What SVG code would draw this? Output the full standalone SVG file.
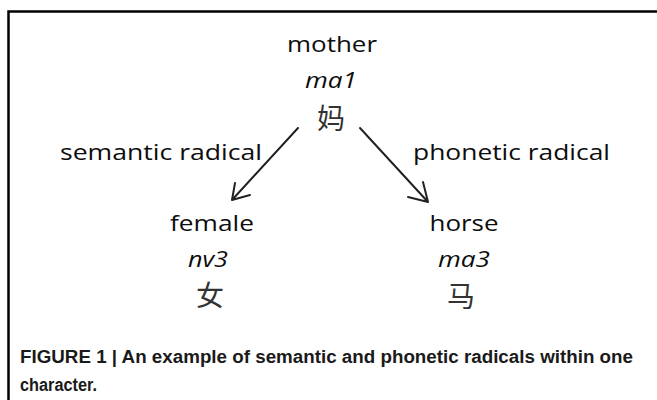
<svg xmlns="http://www.w3.org/2000/svg" width="657" height="400" viewBox="0 0 657 400">
<defs>
<style>
.t{font-family:"Open Sans","Liberation Sans",sans-serif;font-size:22px;fill:#0d0d0d;text-anchor:middle}
.i{font-style:italic}
.c{font-family:"Noto Sans CJK SC",sans-serif;font-size:28px;fill:#333;text-anchor:middle}
.cap{font-family:"Liberation Sans",Arial,sans-serif;font-size:18px;font-weight:bold;fill:#1a1a1a}
.edge{stroke:#222;stroke-width:2;fill:none;stroke-linecap:round;stroke-linejoin:round}
</style>
</defs>
<rect width="657" height="400" fill="#fff"/>
<path d="M8.5 400 V11.5 H657" fill="none" stroke="#000" stroke-width="2.5"/>
<g id="mother">
<text class="t" x="332" y="52" textLength="90" lengthAdjust="spacingAndGlyphs">mother</text>
<text class="t i" x="331" y="88" textLength="52" lengthAdjust="spacingAndGlyphs">ma1</text>
<text class="c" x="331" y="129">妈</text>
</g>
<g id="female">
<text class="t" x="212" y="231" textLength="84" lengthAdjust="spacingAndGlyphs">female</text>
<text class="t i" x="208" y="267" textLength="40" lengthAdjust="spacingAndGlyphs">nv3</text>
<text class="c" x="210" y="306">女</text>
</g>
<g id="horse">
<text class="t" x="464" y="231" textLength="69" lengthAdjust="spacingAndGlyphs">horse</text>
<text class="t i" x="464" y="267" textLength="52" lengthAdjust="spacingAndGlyphs">ma3</text>
<text class="c" x="461" y="307">马</text>
</g>
<g id="connectors">
<path class="edge" d="M298 128 L232 200 M235 183 L232 200 L250 195"/>
<path class="edge" d="M360 128 L428 202 M408 197 L428 202 L423 182"/>
<text class="t" x="161" y="160" textLength="202" lengthAdjust="spacingAndGlyphs">semantic radical</text>
<text class="t" x="511.5" y="160" textLength="197" lengthAdjust="spacingAndGlyphs">phonetic radical</text>
</g>
<text class="cap" x="20" y="363" textLength="613" lengthAdjust="spacingAndGlyphs">FIGURE 1 | An example of semantic and phonetic radicals within one</text>
<text class="cap" x="20" y="391" textLength="77" lengthAdjust="spacingAndGlyphs">character.</text>
</svg>
